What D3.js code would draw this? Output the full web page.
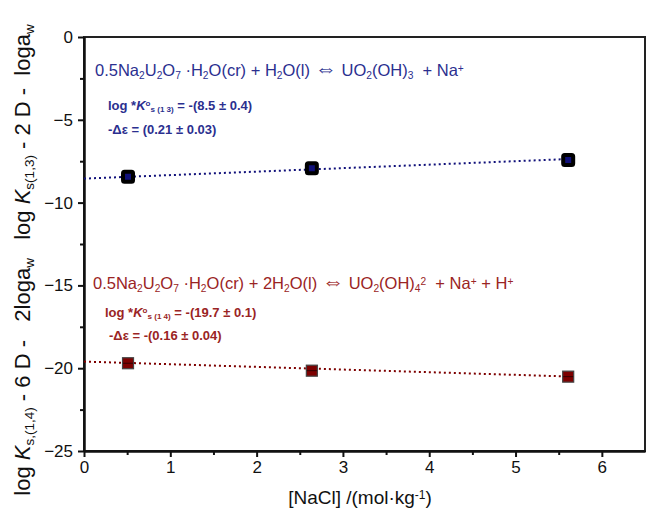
<!DOCTYPE html>
<html>
<head>
<meta charset="utf-8">
<script src="https://cdn.jsdelivr.net/npm/d3@7"></script>
<style>
  body { margin: 0; background: #fff; }
  text { font-family: Arial, "Liberation Sans", sans-serif; }
</style>
</head>
<body>
<div id="chart"></div>
<script>
// data
const nacl = [0.51, 2.64, 5.61];                 // mol/kg
const uo2oh3 = [-8.44, -7.92, -7.43];            // log K s(1,3) - 2D - log aw
const uo2oh4 = [-19.70, -20.15, -20.51];         // log K s(1,4) - 6D - 2 log aw
const fitX = [0, 5.61];
const fitUo2oh3 = [-8.55, -7.37];
const fitUo2oh4 = [-19.6, -20.5];
const xTicks = [0, 1, 2, 3, 4, 5, 6];
const yTicks = [0, -5, -10, -15, -20, -25];

const BLUE = '#2b2f8f', NAVY = '#10107a', RED = '#9a2424', DARKRED = '#7d0000';

const W = 646, H = 519;
const margin = {top: 37, right: 1, bottom: 68, left: 84};
const width = W - margin.left - margin.right;
const height = H - margin.top - margin.bottom;

const svg = d3.select('#chart').append('svg')
  .attr('width', W).attr('height', H);
const g = svg.append('g')
  .attr('transform', `translate(${margin.left}, ${margin.top})`);

const x = d3.scaleLinear().domain([0, 6.5]).range([0, width]);
const y = d3.scaleLinear().domain([-25, 0]).range([height, 0]);

// frame
g.append('rect')
  .attr('width', width).attr('height', height)
  .attr('fill', 'none').attr('stroke', '#222').attr('stroke-width', 2);

// axes
g.append('g')
  .attr('transform', `translate(0, ${height})`)
  .call(d3.axisBottom(x).tickValues(xTicks).tickFormat(d3.format('d')).tickSize(6).tickSizeOuter(0).tickPadding(4));
g.append('g')
  .attr('transform', `translate(0, ${height})`)
  .call(d3.axisBottom(x).tickValues(d3.range(0.5, 6.5, 1)).tickFormat('').tickSize(4).tickSizeOuter(0));
g.append('g')
  .call(d3.axisLeft(y).tickValues(yTicks).tickFormat(d3.format('d')).tickSize(6).tickSizeOuter(0).tickPadding(5));
g.append('g')
  .call(d3.axisLeft(y).tickValues(d3.range(-22.5, 0, 5)).tickFormat('').tickSize(4).tickSizeOuter(0));

g.selectAll('.domain').attr('stroke', '#111').attr('stroke-width', 2);
g.selectAll('.tick line').attr('stroke', '#111').attr('stroke-width', 2);
g.selectAll('.tick text').attr('font-size', 17).attr('fill', '#111')
  .attr('font-family', 'Arial, "Liberation Sans", sans-serif');

// fit lines
const line = d3.line().x(d => x(d[0])).y(d => y(d[1]));
g.append('path')
  .attr('d', line(d3.zip(fitX, fitUo2oh3)))
  .attr('fill', 'none').attr('stroke', NAVY).attr('stroke-width', 2)
  .attr('stroke-dasharray', '2,3');
g.append('path')
  .attr('d', line(d3.zip(fitX, fitUo2oh4)))
  .attr('fill', 'none').attr('stroke', DARKRED).attr('stroke-width', 2)
  .attr('stroke-dasharray', '2,3');

// markers
g.selectAll('rect.blue').data(d3.zip(nacl, uo2oh3)).enter().append('rect')
  .attr('class', 'blue')
  .attr('x', d => x(d[0]) - 5).attr('y', d => y(d[1]) - 5)
  .attr('width', 10).attr('height', 10).attr('rx', 1.5)
  .attr('fill', NAVY).attr('stroke', '#000').attr('stroke-width', 4);

const red = g.selectAll('g.red').data(d3.zip(nacl, uo2oh4)).enter().append('g')
  .attr('class', 'red')
  .attr('transform', d => `translate(${x(d[0])}, ${y(d[1])})`);
red.append('rect')
  .attr('x', -5.5).attr('y', -5.5).attr('width', 11).attr('height', 11)
  .attr('fill', DARKRED).attr('stroke', '#444').attr('stroke-width', 1.2);
red.append('line')
  .attr('x1', -5).attr('x2', 5).attr('y1', 0).attr('y2', 0)
  .attr('stroke', '#300').attr('stroke-width', 1);

// annotations
function addText(parent, xPos, yPos, size, color, parts, weight) {
  const t = parent.append('text')
    .attr('x', xPos).attr('y', yPos)
    .attr('font-size', size).attr('fill', color)
    .attr('font-weight', weight || 'normal');
  parts.forEach(p => {
    const s = t.append('tspan').text(p.t).style('white-space', 'pre');
    if (p.sub) s.attr('font-size', size * 0.62).attr('baseline-shift', '-30%');
    if (p.sup) s.attr('font-size', size * 0.62).attr('baseline-shift', '45%');
    if (p.i) s.attr('font-style', 'italic');
    if (p.big) s.attr('font-size', size * 1.35);
  });
  return t;
}

addText(svg, 95, 76, 16.5, BLUE, [
  {t: '0.5Na'}, {t: '2', sub: 1}, {t: 'U'}, {t: '2', sub: 1}, {t: 'O'}, {t: '7', sub: 1},
  {t: ' \u00b7H'}, {t: '2', sub: 1}, {t: 'O(cr) + H'}, {t: '2', sub: 1}, {t: 'O(l) '},
  {t: '\u21d4', big: 1}, {t: ' UO'},
  {t: '2', sub: 1}, {t: '(OH)'}, {t: '3', sub: 1}, {t: '  + Na'}, {t: '+', sup: 1}
]);
addText(svg, 108, 110, 13, BLUE, [
  {t: 'log *'}, {t: 'K', i: 1}, {t: 'o', sup: 1}, {t: 's (1 3)', sub: 1}, {t: ' = -(8.5 \u00b1 0.4)'}
], 'bold');
addText(svg, 108, 134, 13, BLUE, [{t: '-\u0394\u03b5 = (0.21 \u00b1 0.03)'}], 'bold');

addText(svg, 93, 289, 16.5, RED, [
  {t: '0.5Na'}, {t: '2', sub: 1}, {t: 'U'}, {t: '2', sub: 1}, {t: 'O'}, {t: '7', sub: 1},
  {t: ' \u00b7H'}, {t: '2', sub: 1}, {t: 'O(cr) + 2H'}, {t: '2', sub: 1}, {t: 'O(l) '},
  {t: '\u21d4', big: 1}, {t: ' UO'},
  {t: '2', sub: 1}, {t: '(OH)'}, {t: '4', sub: 1}, {t: '2', sup: 1}, {t: '  + Na'}, {t: '+', sup: 1},
  {t: ' + H'}, {t: '+', sup: 1}
]);
addText(svg, 105, 317, 13, RED, [
  {t: 'log *'}, {t: 'K', i: 1}, {t: 'o', sup: 1}, {t: 's (1 4)', sub: 1}, {t: ' = -(19.7 \u00b1 0.1)'}
], 'bold');
addText(svg, 109, 340, 13, RED, [{t: '-\u0394\u03b5 = -(0.16 \u00b1 0.04)'}], 'bold');

// x title
const xt = svg.append('text')
  .attr('x', 360).attr('y', 504)
  .attr('text-anchor', 'middle').attr('font-size', 19).attr('fill', '#111');
xt.append('tspan').text('[NaCl] /(mol\u00b7kg');
xt.append('tspan').text('-1').attr('font-size', 12).attr('baseline-shift', '45%');
xt.append('tspan').text(')');

// y title
const yt = svg.append('text')
  .attr('transform', 'translate(30, 260) rotate(-90)')
  .attr('text-anchor', 'middle').attr('font-size', 22).attr('fill', '#111');
[
  {t: 'log '}, {t: 'K', i: 1}, {t: 's,(1,4)', sub: 1}, {t: ' - 6 D -   2loga'}, {t: 'w', sub: 1},
  {t: '   log '}, {t: 'K', i: 1}, {t: 's(1,3)', sub: 1}, {t: ' - 2 D -  loga'}, {t: 'w', sub: 1}
].forEach(p => {
  const s = yt.append('tspan').text(p.t).style('white-space', 'pre');
  if (p.sub) s.attr('font-size', 13.5).attr('baseline-shift', '-30%');
  if (p.i) s.attr('font-style', 'italic');
});
</script>
</body>
</html>
